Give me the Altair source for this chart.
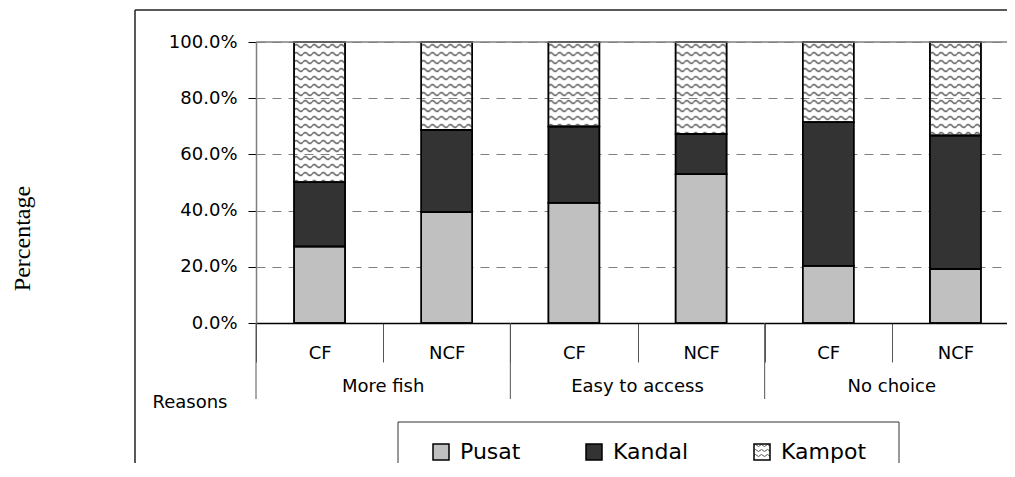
import base64
import altair as alt
import pandas as pd

# ---------------- data ----------------
reasons = ["More fish", "Easy to access", "No choice"]
types = ["CF", "NCF"]
regions = ["Pusat", "Kandal", "Kampot"]
pusat = [27.2, 39.4, 42.8, 52.9, 20.4, 19.2]
kandal = [22.9, 29.3, 27.1, 14.4, 51.0, 47.5]
kampot = [49.9, 31.3, 30.1, 32.7, 28.6, 33.3]
y_ticks = [0.0, 0.2, 0.4, 0.6, 0.8, 1.0]
colors = ["#c0c0c0", "#333333", "transparent"]

keys = [f"{r}|{t}" for r in reasons for t in types]
rows = []
for i, k in enumerate(keys):
    for j, (reg, vals) in enumerate(zip(regions, [pusat, kandal, kampot])):
        rows.append({"key": k, "region": reg, "order": j, "value": vals[i] / 100.0})
df = pd.DataFrame(rows)

groups = pd.DataFrame({
    "reason": reasons,
    "start": [f"{r}|CF" for r in reasons],
    "mid": [f"{r}|NCF" for r in reasons],
})

W, H = 763, 281
FONT = "DejaVu Sans"

# wave pattern used for the Kampot segments
wave_svg = (
    "<svg xmlns='http://www.w3.org/2000/svg' width='100%' height='100%'>"
    "<defs><pattern id='w' width='9' height='8' patternUnits='userSpaceOnUse'>"
    "<path d='M0 4 Q2.25 1 4.5 4 T9 4' fill='none' stroke='#5a5a5a' stroke-width='1.5'/>"
    "</pattern></defs><rect width='100%' height='100%' fill='url(#w)'/></svg>"
)
wave_uri = "data:image/svg+xml;base64," + base64.b64encode(wave_svg.encode()).decode()
small_svg = (
    "<svg xmlns='http://www.w3.org/2000/svg' width='100%' height='100%'>"
    "<defs><pattern id='w' width='6' height='5' patternUnits='userSpaceOnUse'>"
    "<path d='M0 2.5 Q1.5 0.5 3 2.5 T6 2.5' fill='none' stroke='#555555' stroke-width='1'/>"
    "</pattern></defs><rect width='100%' height='100%' fill='white'/>"
    "<rect width='100%' height='100%' fill='url(#w)'/></svg>"
)
small_uri = "data:image/svg+xml;base64," + base64.b64encode(small_svg.encode()).decode()

xscale = alt.Scale(domain=keys, paddingInner=0, paddingOuter=0)
yscale = alt.Scale(domain=[0, 1])

x_axis = alt.Axis(
    labelExpr="split(datum.value, '|')[1]", labelAngle=0,
    labelFont=FONT, labelFontSize=18, labelColor="black",
    labelBaseline="top", labelPadding=-18,
    tickBand="extent", tickSize=39, tickColor="#555555", tickWidth=1,
    domainColor="black", domainWidth=1.5, grid=False,
    title="Reasons", titleX=-104, titleY=79, titleAlign="left",
    titleBaseline="middle", titleAngle=0, titleFont=FONT,
    titleFontSize=18, titleFontWeight="normal", titleColor="black",
)
y_axis = alt.Axis(
    values=y_ticks, format=".1%", labelFont=FONT, labelFontSize=18,
    labelColor="black", labelPadding=11, tickSize=8, tickColor="black",
    domainColor="#808080", domainWidth=1.5,
    grid=True, gridDash=[9, 7], gridColor="#808080", gridWidth=1,
    title="Percentage", titleFont="Liberation Serif", titleFontSize=24,
    titleFontWeight="normal", titleAngle=270, titleX=-234, titleY=196,
    titleAlign="center", titleBaseline="middle", titleColor="black",
)

base = alt.Chart(df).transform_stack(
    stack="value", as_=["y0", "y1"], groupby=["key"],
    sort=[alt.SortField("order", order="ascending")],
)

def X(field, **kw):
    return alt.X(field, sort=keys, scale=xscale, axis=x_axis, **kw)

def Y(field):
    return alt.Y(field, scale=yscale, axis=y_axis)

bars = base.mark_bar(size=51, stroke="black", strokeWidth=1.5).encode(
    x=X("key:N"),
    y=Y("y1:Q"),
    y2="y0:Q",
    color=alt.Color(
        "region:N", sort=regions,
        scale=alt.Scale(domain=regions, range=colors),
        legend=alt.Legend(
            title=None, orient="none", legendX=174, legendY=399,
            direction="horizontal", columns=3, columnPadding=62,
            symbolType="square", symbolSize=256, symbolStrokeColor="black",
            symbolStrokeWidth=1.5, labelFont=FONT, labelFontSize=22,
            labelColor="black", labelOffset=8, padding=0,
        ),
    ),
)

waves = base.transform_filter(alt.datum.region == "Kampot").mark_image(
    width=51, aspect=False
).encode(
    x=X("key:N"),
    y=Y("y1:Q"),
    y2="y0:Q",
    url=alt.value(wave_uri),
)

outline = base.mark_bar(size=51, fillOpacity=0, stroke="black", strokeWidth=1.5).encode(
    x=X("key:N"),
    y=Y("y1:Q"),
    y2="y0:Q",
)

top_line = alt.Chart(pd.DataFrame({"y1": [1.0]})).mark_rule(
    color="#808080", strokeWidth=1.5
).encode(y=Y("y1:Q"))

separators = alt.Chart(groups).mark_rule(color="#555555", strokeWidth=1).encode(
    x=X("start:N", bandPosition=0),
    y=alt.value(H),
    y2=alt.value(H + 76),
)

group_text = alt.Chart(groups).mark_text(
    font=FONT, fontSize=18, color="black", align="center", baseline="middle"
).encode(
    x=X("mid:N", bandPosition=0),
    y=alt.value(H + 64),
    text="reason:N",
)

one = alt.Data(values=[{"a": 1}])
frame_top = alt.Chart(one).mark_rule(color="#222222", strokeWidth=1.5).encode(
    x=alt.value(-121), x2=alt.value(W + 40), y=alt.value(-32)
)
frame_left = alt.Chart(one).mark_rule(color="#222222", strokeWidth=1.5).encode(
    x=alt.value(-121), y=alt.value(-32), y2=alt.value(H + 200)
)
legend_box = alt.Chart(one).mark_rect(
    fillOpacity=0, stroke="#333333", strokeWidth=1
).encode(
    x=alt.value(142), x2=alt.value(643), y=alt.value(380), y2=alt.value(H + 220)
)
legend_swatch = alt.Chart(one).mark_image(width=16, height=16, aspect=False).encode(
    x=alt.value(506), y=alt.value(409), url=alt.value(small_uri)
)

chart = alt.layer(
    bars, waves, outline, top_line, separators, group_text,
    frame_top, frame_left, legend_box, legend_swatch,
).properties(
    width=W, height=H,
    autosize=alt.AutoSizeParams(type="none"),
    padding={"left": 248, "top": 34, "right": -12, "bottom": 140},
).configure_view(stroke=None)

chart.save("out.html", embed_options={"renderer": "svg", "actions": False})
